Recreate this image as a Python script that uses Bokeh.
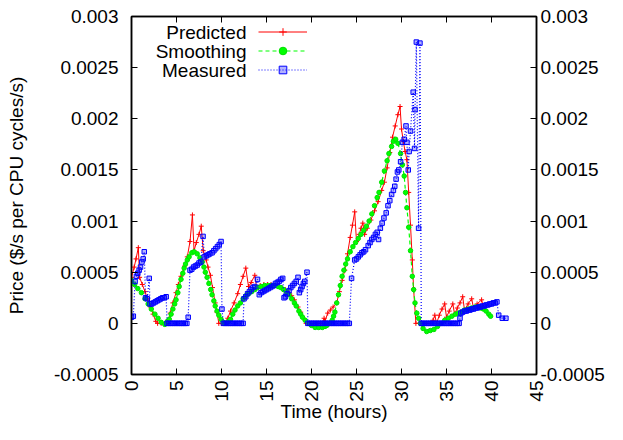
import math
from bokeh.plotting import figure
from bokeh.models import Range1d, LinearAxis, FixedTicker, Legend, LegendItem, Label
from bokeh.embed import file_html
from bokeh.resources import INLINE

FONT = "Liberation Sans"

series_names = ["Predicted", "Smoothing", "Measured"]
x_label = "Time (hours)"
y_label = "Price ($/s per CPU cycles/s)"
x_ticks = [0, 5, 10, 15, 20, 25, 30, 35, 40, 45]
y_ticks = [-0.0005, 0.0, 0.0005, 0.001, 0.0015, 0.002, 0.0025, 0.003]
y_tick_labels = ["-0.0005", "0", "0.0005", "0.001", "0.0015", "0.002", "0.0025", "0.003"]

pred_t = [0.0, 0.3, 0.5, 0.76, 0.9, 1.2, 1.5, 1.8, 2.1, 2.4, 2.7, 2.9, 3.3, 3.7, 4.0, 4.3, 4.6, 4.95,
          5.2, 5.5, 5.9, 6.2, 6.5, 6.77, 6.95, 7.2, 7.5, 7.75, 7.97, 8.3, 8.5, 8.77, 9.0, 9.3, 9.5,
          9.7, 10.0, 10.3, 10.7, 11.0, 11.4, 11.8, 12.1, 12.4, 12.7, 13.0, 13.3, 13.7, 13.9, 14.3,
          14.7, 15.1, 15.5, 15.9, 16.3, 16.7, 17.1, 17.5, 17.8, 18.1, 18.5, 18.8, 19.1, 19.4, 19.8,
          20.2, 20.6, 21.0, 21.2, 21.4, 21.5, 21.8, 22.1, 22.4, 22.8, 23.1, 23.4, 23.7, 24.0, 24.3,
          24.55, 24.8, 25.0, 25.3, 25.5, 25.7, 25.9, 26.2, 26.6, 27.0, 27.4, 27.8, 28.1, 28.4, 28.7,
          29.0, 29.3, 29.6, 29.84, 30.0, 30.2, 30.4, 30.6, 30.8, 31.0, 31.2, 31.35, 31.6, 32.0, 32.4,
          32.8, 33.2, 33.5, 33.7, 33.9, 34.2, 34.5, 34.8, 35.0, 35.3, 35.7, 35.9, 36.2, 36.5, 36.8,
          37.0, 37.4, 37.8, 38.0, 38.4, 38.9, 39.1]
pred_v = [0.00045, 0.00055, 0.00063, 0.00074, 0.00045, 0.00038, 0.00031, 0.00024, 0.00016, 0.00009,
          0.00002, 0.0, 0.0, 0.0, 0.0, 0.0001, 0.0002, 0.0003, 0.00038, 0.00046, 0.00056, 0.00065,
          0.0008, 0.00106, 0.00071, 0.00079, 0.00087, 0.00095, 0.00071, 0.00062, 0.00055, 0.00047,
          0.00035, 0.0002, 0.00011, 0.0, 0.0, 0.0, 0.00005, 0.00012, 0.0002, 0.00029, 0.00038,
          0.00046, 0.00054, 0.00036, 0.0004, 0.00047, 0.00035, 0.00037, 0.00038, 0.00038, 0.00038,
          0.00037, 0.00037, 0.00035, 0.00033, 0.0003, 0.00027, 0.00023, 0.00016, 0.00011, 0.00005,
          0.0, 0.0, 0.0, 0.0, 0.0, 0.0, 0.00005, 0.00002, 0.0001, 0.00013, 0.00016, 0.0002, 0.00031,
          0.00042, 0.00052, 0.00068, 0.00084, 0.00096, 0.00109, 0.0008, 0.00087, 0.00093, 0.00098,
          0.00087, 0.00093, 0.00101, 0.0011, 0.00119, 0.0013, 0.00138, 0.00152, 0.00167, 0.00182,
          0.00193, 0.00204, 0.00212, 0.0019, 0.00178, 0.00168, 0.0016, 0.00128, 0.00096, 0.00062,
          0.00033, 0.0, 0.0, 0.0, 0.0, 0.0, 0.00003, 0.00008, 0.0, 0.00008, 0.00014, 0.00019,
          0.00006, 0.00012, 0.00019, 0.00009, 0.00015, 0.0002, 0.00026, 0.00013, 0.00019, 0.00024,
          0.00015, 0.00019, 0.00023, 0.00016]

smooth_t = [0.0, 0.35, 0.7, 1.1, 1.5, 1.85, 2.2, 2.6, 2.95, 3.3, 3.7, 4.0, 4.2, 4.4, 4.6, 4.8, 4.95,
            5.15, 5.3, 5.5, 5.7, 5.85, 6.0, 6.2, 6.4, 6.7, 6.95, 7.3, 7.6, 7.86, 8.05, 8.2, 8.4, 8.6,
            8.8, 8.95, 9.15, 9.3, 9.5, 9.7, 9.95, 10.2, 10.5, 10.8, 11.0, 11.25, 11.5, 11.8, 12.1,
            12.4, 12.7, 13.0, 13.35, 13.7, 14.0, 14.4, 14.8, 15.2, 15.5, 15.9, 16.3, 16.6, 16.9,
            17.2, 17.5, 17.8, 18.1, 18.3, 18.6, 18.8, 19.0, 19.3, 19.7, 20.0, 20.4, 20.8, 21.2, 21.5,
            21.7, 22.0, 22.3, 22.45, 22.6, 22.8, 23.0, 23.2, 23.4, 23.6, 23.8, 24.0, 24.3, 24.6, 24.9,
            25.2, 25.5, 25.8, 26.1, 26.4, 26.7, 27.0, 27.3, 27.5, 27.8, 28.1, 28.4, 28.6, 28.9, 29.1,
            29.35, 29.6, 29.9, 30.1, 30.3, 30.45, 30.6, 30.8, 31.0, 31.2, 31.35, 31.5, 31.7, 31.9,
            32.1, 32.4, 32.8, 33.2, 33.6, 34.0, 34.4, 34.8, 35.2, 35.6, 36.0, 36.3, 36.6, 37.0, 37.4,
            37.8, 38.2, 38.5, 38.8, 39.1, 39.4, 39.7, 39.9]
smooth_v = [0.00042, 0.00038, 0.00034, 0.0003, 0.00024, 0.00019, 0.00014, 0.00009, 0.00005, 0.00001,
            -0.00001, 0.00002, 0.00004, 0.00009, 0.00014, 0.00019, 0.00023, 0.0003, 0.00036, 0.00043,
            0.00049, 0.00054, 0.00058, 0.00062, 0.00065, 0.00069, 0.0007, 0.00068, 0.00064, 0.0006,
            0.00055, 0.0005, 0.00045, 0.00039, 0.00033, 0.00028, 0.00022, 0.00017, 0.00012, 0.00008,
            0.00004, 0.00001, 0.0, 0.00002, 0.00004, 0.00009, 0.00013, 0.00017, 0.0002, 0.00024,
            0.00027, 0.00029, 0.00031, 0.00033, 0.00035, 0.00036, 0.00037, 0.00037, 0.00037, 0.00037,
            0.00036, 0.00035, 0.00033, 0.00031, 0.00028, 0.00024, 0.0002, 0.00017, 0.00012, 0.00009,
            0.00006, 0.00003, 0.0, -0.00002, -0.00004, -0.00004, -0.00004, -0.00003, -0.00002, 0.0,
            0.00003, 0.00007, 0.00011, 0.0002, 0.00028, 0.00037, 0.00046, 0.00052, 0.00058, 0.00063,
            0.0007, 0.00075, 0.00079, 0.00083, 0.00087, 0.00091, 0.00095, 0.001, 0.00107, 0.00115,
            0.00123, 0.00128, 0.00138, 0.00149, 0.00159, 0.00166, 0.00173, 0.00178, 0.0018, 0.00176,
            0.00166, 0.00155, 0.00144, 0.00128, 0.00113, 0.00094, 0.00071, 0.00046, 0.00033, 0.0002,
            0.0001, 0.00005, 0.0, -0.00005, -0.00008, -0.00007, -0.00006, -0.00003, 0.0, 0.00003,
            0.00005, 0.00007, 0.00009, 0.0001, 0.00011, 0.00013, 0.00014, 0.00015, 0.00016, 0.00016,
            0.00015, 0.00014, 0.00012, 0.00009, 0.00007]

meas_t = [0.0, 0.2, 0.4, 0.55, 0.7, 0.85, 1.0, 1.15, 1.3, 1.42, 1.56, 1.75, 1.97, 2.05, 2.25, 2.45,
          2.65, 2.85, 3.05, 3.25, 3.45, 3.65, 3.85, 3.95,
          4.15, 4.35, 4.55, 4.75, 4.95, 5.15, 5.35, 5.55, 5.75, 5.95, 6.15,
          6.3, 6.5, 6.7, 6.9, 7.1, 7.3, 7.5, 7.7, 7.95, 8.1, 8.3, 8.5, 8.7, 8.95, 9.15, 9.35, 9.55,
          9.75, 9.95, 10.05,
          10.2, 10.4, 10.6, 10.8, 11.0, 11.2, 11.4, 11.6, 11.8, 12.0, 12.2, 12.4,
          12.5, 12.7, 12.9, 13.1, 13.3, 13.5, 13.7, 14.0, 14.2, 14.4, 14.6, 14.8, 15.0, 15.2, 15.4,
          15.6, 15.8, 16.0, 16.2, 16.4, 16.6, 16.8, 16.95, 17.1, 17.3, 17.5, 17.7, 17.9, 18.1, 18.3,
          18.5, 18.65, 18.8, 18.95, 19.1, 19.25, 19.5, 19.6,
          19.8, 20.0, 20.2, 20.4, 20.6, 20.8, 21.0, 21.2, 21.4, 21.6, 21.8, 22.0, 22.2, 22.4, 22.6,
          22.8, 23.0, 23.2, 23.4, 23.6, 23.8, 24.0, 24.2,
          24.45, 24.8, 25.0, 25.2, 25.4, 25.6, 25.8, 26.0, 26.3, 26.5, 26.7, 26.9, 27.1, 27.3, 27.45,
          27.65, 27.85, 28.05, 28.3, 28.5, 28.7, 28.9, 29.1, 29.25, 29.4, 29.55, 29.7, 29.9, 30.1,
          30.3, 30.5, 30.6, 30.75, 30.85, 31.0, 31.3, 31.45, 31.5, 31.65, 31.9, 32.05, 32.2,
          32.4, 32.6, 32.8, 33.0, 33.2, 33.4, 33.6, 33.8, 34.0, 34.2, 34.4, 34.6, 34.8, 35.0, 35.2,
          35.4, 35.6, 35.8, 36.0, 36.2, 36.4,
          36.5, 36.6, 36.8, 37.0, 37.2, 37.4, 37.6, 37.8, 38.0, 38.2, 38.4, 38.6, 38.8, 39.0, 39.2,
          39.4, 39.6, 39.8, 40.0, 40.2, 40.4, 40.6, 40.8, 41.2, 41.6]
meas_v = [0.00006, 0.00007, 0.00041, 0.00046, 0.00049, 0.00052, 0.00055, 0.0006, 0.00063, 0.0007,
          0.00025, 0.00024, 0.00044, 0.00019, 0.00019, 0.0002, 0.00021, 0.00022, 0.00023, 0.00024,
          0.00025, 0.00025, 0.00026, 0.0,
          0.0, 0.0, 0.0, 0.0, 0.0, 0.0, 0.0, 0.0, 0.0, 0.0, 0.0,
          0.00006, 0.00052, 0.00053, 0.00055, 0.00056, 0.00057, 0.00059, 0.0006, 0.00085, 0.00065,
          0.00066, 0.00067, 0.00068, 0.00069, 0.00071, 0.00073, 0.00075, 0.00077, 0.0008, 0.00014,
          0.0, 0.0, 0.0, 0.0, 0.0, 0.0, 0.0, 0.0, 0.0, 0.0, 0.0, 0.0,
          0.00024, 0.00026, 0.00029, 0.00031, 0.00033, 0.00035, 0.00036, 0.00043, 0.00028, 0.0003,
          0.00031, 0.00032, 0.00033, 0.00034, 0.00035, 0.00036, 0.00037, 0.00039, 0.0004, 0.00041,
          0.00043, 0.00044, 0.00025, 0.00026, 0.00029, 0.00032, 0.00035, 0.00037, 0.00039, 0.00041,
          0.00045, 0.0003, 0.00033, 0.00036, 0.00039, 0.00041, 0.0005, 0.0,
          0.0, 0.0, 0.0, 0.0, 0.0, 0.0, 0.0, 0.0, 0.0, 0.0, 0.0, 0.0, 0.0, 0.0, 0.0,
          0.0, 0.0, 0.0, 0.0, 0.0, 0.0, 0.0, 0.0,
          0.00044, 0.00062, 0.00063, 0.00065, 0.00067, 0.00069, 0.0007, 0.00072, 0.00076, 0.00079,
          0.00082, 0.00084, 0.00087, 0.00089, 0.00082, 0.00093, 0.00098, 0.00103, 0.00108, 0.00115,
          0.0012, 0.00126, 0.0013, 0.00134, 0.00141, 0.00148, 0.0015, 0.00158, 0.00177, 0.0018,
          0.00193, 0.00177, 0.0015, 0.00168, 0.00188, 0.00226, 0.00171, 0.00209, 0.00275, 0.00093,
          0.00274, 0.0,
          0.0, 0.0, 0.0, 0.0, 0.0, 0.0, 0.0, 0.0, 0.0, 0.0, 0.0, 0.0, 0.0, 0.0, 0.0,
          0.0, 0.0, 0.0, 0.0, 0.0, 0.0,
          0.00005, 0.0001, 0.00011, 0.00012, 0.00012, 0.00013, 0.00013, 0.00014, 0.00014, 0.00015,
          0.00015, 0.00016, 0.00016, 0.00017, 0.00017, 0.00018, 0.00018, 0.00019, 0.00019, 0.0002,
          0.0002, 0.00021, 0.00008, 0.00005, 0.00005]

p = figure(width=607, height=424, output_backend="svg", toolbar_location=None,
           x_range=Range1d(0, 45), y_range=Range1d(-0.0005, 0.003),
           min_border_left=131, min_border_right=68, min_border_top=16, min_border_bottom=50,
           background_fill_color="white", border_fill_color="white")
p.xgrid.visible = False
p.ygrid.visible = False
p.outline_line_color = "black"
p.outline_line_width = 1.5

y_over = dict(zip(y_ticks, y_tick_labels))

def style_axis(ax):
    ax.major_tick_in = 6
    ax.major_tick_out = 0
    ax.minor_tick_in = 0
    ax.minor_tick_out = 0
    ax.axis_line_color = "black"
    ax.axis_line_width = 1.5
    ax.major_tick_line_color = "black"
    ax.major_tick_line_width = 1
    ax.major_label_text_font = FONT
    ax.major_label_text_font_size = "19px"
    ax.major_label_text_color = "black"
    ax.axis_label_text_font = FONT
    ax.axis_label_text_font_size = "19px"
    ax.axis_label_text_font_style = "normal"
    ax.axis_label_text_color = "black"

xa = p.xaxis[0]
xa.ticker = FixedTicker(ticks=x_ticks)
xa.major_label_orientation = math.pi / 2
xa.axis_label = x_label
style_axis(xa)
xa.major_label_standoff = 6
xa.axis_label_standoff = -4

ya = p.yaxis[0]
ya.ticker = FixedTicker(ticks=y_ticks)
ya.major_label_overrides = y_over
ya.axis_label = y_label
style_axis(ya)
ya.major_label_standoff = 13
ya.axis_label_standoff = 24

ra = LinearAxis(ticker=FixedTicker(ticks=y_ticks), major_label_overrides=y_over)
style_axis(ra)
ra.major_label_standoff = 4
p.add_layout(ra, "right")

ta = LinearAxis(ticker=FixedTicker(ticks=x_ticks))
style_axis(ta)
ta.major_label_text_font_size = "0px"
ta.major_label_standoff = 0
p.add_layout(ta, "above")

red_l = p.line(pred_t, pred_v, line_color="#ff0000", line_width=1)
red_s = p.scatter(pred_t, pred_v, marker="cross", size=5, line_color="#ff0000", line_width=1)
grn_l = p.line(smooth_t, smooth_v, line_color="#00ff00", line_width=1.2, line_dash="4 3")
grn_s = p.scatter(smooth_t, smooth_v, marker="circle", size=4.5, line_color="#00e000",
                  fill_color="#00ff00", line_width=1)
blu_l = p.line(meas_t, meas_v, line_color="#0000ff", line_width=1.2, line_dash="1 2")
blu_s = p.scatter(meas_t, meas_v, marker="square", size=4.5, line_color="#0000ff",
                  fill_color="#0000ff", fill_alpha=0.3, line_width=1)

legend = Legend(items=[LegendItem(label=" ", renderers=[red_l, red_s]),
                       LegendItem(label=" ", renderers=[grn_l, grn_s]),
                       LegendItem(label=" ", renderers=[blu_l, blu_s])],
                location=(126.7, 294.8), glyph_width=49, glyph_height=19, label_height=19,
                label_width=0, label_standoff=0, padding=0, margin=0, spacing=0,
                label_text_font_size="1px", border_line_color=None, background_fill_alpha=0)
p.add_layout(legend)

for name, yy in zip(series_names, [342.3, 322.7, 303.7]):
    p.add_layout(Label(x=115, y=yy, x_units="screen", y_units="screen", text=name,
                       text_align="right", text_baseline="middle", text_font=FONT,
                       text_font_size="19px", text_color="black"))

open("out.html", "w").write(file_html(p, INLINE))
